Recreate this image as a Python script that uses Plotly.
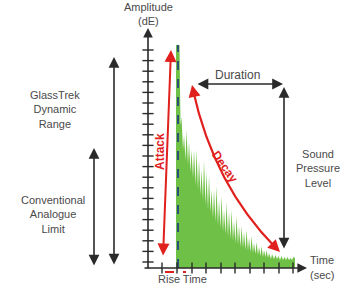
import plotly.graph_objects as go

# ---- data (time units to the right of the amplitude axis, amplitude units above the time axis)
wave_time = [28, 28, 31.5, 32.5, 33.5, 35, 36, 37.5, 38.5, 40, 41, 42.5, 43.5, 45, 46, 47.5, 48.5, 50, 51,
             52.5, 53.5, 55, 56, 57.5, 58.5, 60, 61, 62.5, 63.5, 65, 66, 67.5, 68.5, 70, 71, 72.5, 73.5,
             75, 76, 77.5, 78.5, 80, 81, 82.5, 83.5, 85, 86, 87.5, 88.5, 90, 91, 92.5, 93.5, 95, 96,
             97.5, 98.5, 100, 101, 102.5, 103.5, 105, 106, 107.5, 108.5, 110, 111, 112.5, 113.5, 115,
             116, 117.5, 118.5, 120, 121, 123, 124, 126, 127.5, 129, 130.5, 132, 133.5, 135, 136.5,
             138, 139.5, 141, 142.5, 144, 145.5, 147, 147]
wave_amp = [0, 223, 223, 143, 151, 118, 133, 108, 138, 103, 126, 96, 118, 90, 118, 83, 118, 78, 108,
            73, 98, 68, 108, 63, 96, 58, 92, 56, 78, 50, 78, 46, 82, 42, 68, 40, 72,
            36, 58, 34, 66, 31, 56, 29, 58, 27, 47, 25, 52, 23, 42, 21, 42, 20, 36,
            18, 38, 17, 30, 16, 32, 15, 25, 14, 26, 13, 21, 12, 22, 11,
            18, 11, 18, 10, 15, 9, 14, 9, 13, 9, 12, 8, 12, 8, 11,
            8, 11, 8, 10, 8, 11, 10, 0]
y_tick_levels = [218 - 10.6 * i for i in range(21)]
x_tick_times = [14, 29, 44, 58, 73, 87, 102, 116, 131, 145]
peak_time = 30
peak_amp = 223

GREY = "#4a4a4a"
RED = "#e0201c"
BLACK = "#2a2a2a"
FONT = "Liberation Sans, Arial, sans-serif"

fig = go.Figure()

# waveform
fig.add_trace(go.Scatter(x=wave_time, y=wave_amp, fill="toself", fillcolor="#6fc046",
                         line=dict(width=0), mode="lines", hoverinfo="skip"))
# rise marker (dashed)
fig.add_trace(go.Scatter(x=[peak_time, peak_time], y=[0, peak_amp], mode="lines",
                         line=dict(color="#2f5079", width=2, dash="dash"), hoverinfo="skip"))
# ticks
fig.add_trace(go.Scatter(x=[0] * len(y_tick_levels), y=y_tick_levels, mode="markers",
                         marker=dict(symbol="line-ew", size=8, line=dict(color=BLACK, width=1.4)),
                         hoverinfo="skip"))
fig.add_trace(go.Scatter(x=x_tick_times, y=[0] * len(x_tick_times), mode="markers",
                         marker=dict(symbol="line-ns", size=8, line=dict(color=BLACK, width=1.4)),
                         hoverinfo="skip"))

shapes = []
# decay curve
shapes.append(dict(type="path", xref="x", yref="y", path="M 45,178 Q 66,82.5 128,20",
                   line=dict(color=RED, width=2.2)))
# rise time dashes
shapes.append(dict(type="line", xref="x", yref="y", x0=17, x1=38, y0=-4, y1=-4,
                   line=dict(color=RED, width=2, dash="dash")))

ann = []


def arrow(x, y, ax, ay, color=BLACK, both=True, width=1.6, size=1.35):
    ann.append(dict(x=x, y=y, ax=ax, ay=ay, xref="x", yref="y", axref="x", ayref="y",
                    text="", showarrow=True, arrowhead=2, arrowsize=size, arrowwidth=width,
                    arrowcolor=color, arrowside="end+start" if both else "end",
                    standoff=0, startstandoff=0))


def label(x, y, text, size=11, color=GREY, angle=0, bold=False):
    ann.append(dict(x=x, y=y, xref="x", yref="y", text=f"<b>{text}</b>" if bold else text,
                    showarrow=False, textangle=angle,
                    font=dict(family=FONT, size=size, color=color), align="center"))


# axes
arrow(0, 240, 0, -2, both=False, width=1.6, size=1.2)
arrow(159, 0, -5, 0, both=False, width=1.6, size=1.2)
# range arrows
arrow(-34, 211, -34, 2)
arrow(-54, 120, -54, 1)
# attack
arrow(23, 218, 15, 11, color=RED, width=2, size=1.2)
# decay heads
arrow(44, 183, 46.2, 173, color=RED, both=False, width=2, size=1.2)
arrow(132, 16, 122, 26, color=RED, both=False, width=2, size=1.2)
# duration / SPL
arrow(135, 184, 48, 184)
arrow(136, 181, 136, 18)

label(0, 261, "Amplitude")
label(0, 247, "(dE)")
label(-93, 159, "GlassTrek<br>Dynamic<br>Range")
label(-95, 54, "Conventional<br>Analogue<br>Limit")
label(12, 116, "Attack", size=12, color=RED, angle=-90, bold=True)
label(77, 101, "Decay", size=12, color=RED, angle=55, bold=True)
label(89, 193, "Duration", size=12)
label(170, 100, "Sound<br>Pressure<br>Level")
label(174, 8, "Time")
label(174, -7, "(sec)")
label(34, -11, "Rise Time")

fig.update_layout(width=349, height=285, margin=dict(l=0, r=0, t=0, b=0),
                  paper_bgcolor="white", plot_bgcolor="white", showlegend=False,
                  shapes=shapes, annotations=ann,
                  xaxis=dict(range=[-148, 201], visible=False, fixedrange=True),
                  yaxis=dict(range=[-17, 268], visible=False, fixedrange=True))

fig.write_html("out.html", config={"displayModeBar": False},
               post_script="document.body.style.margin='0';document.body.style.overflow='hidden';")
